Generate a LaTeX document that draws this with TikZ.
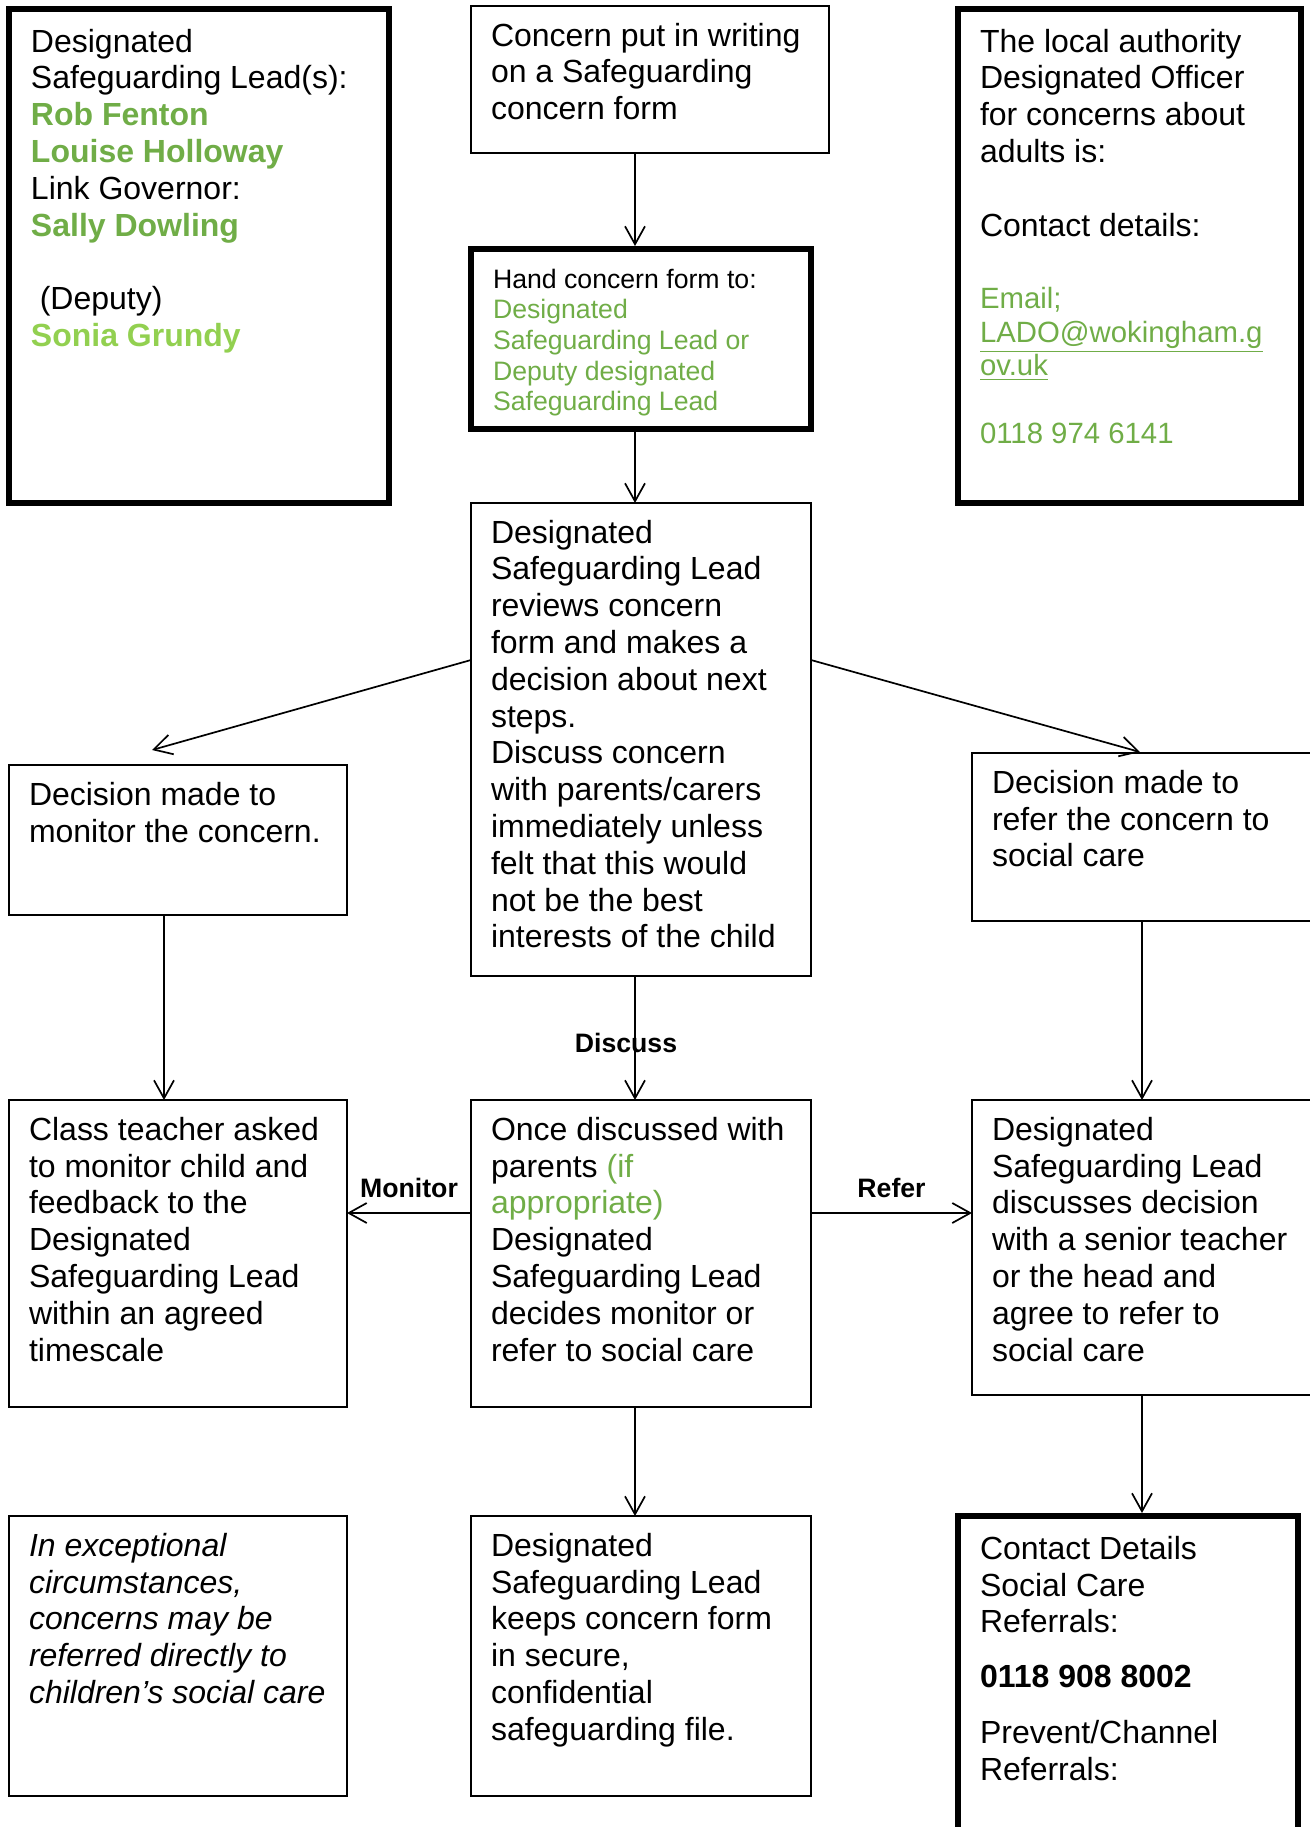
\documentclass[tikz,border=0pt]{standalone}
\usepackage{fontspec}
\setmainfont{Liberation Sans}
\usepackage{tikz}
\usetikzlibrary{arrows.meta}
\definecolor{dslgreen}{RGB}{112,173,71}
\definecolor{lightgreen}{RGB}{146,208,80}
\newcommand{\boxtext}[3]{\parbox[t][#2][t]{#1}{\raggedright\rightskip=-10pt plus 1fil\relax #3}}

\begin{document}
\begin{tikzpicture}[x=0.5pt, y=-0.5pt,
  box/.style={rectangle, draw, line width=0.6pt, anchor=north west, outer sep=0pt,
    inner xsep=10pt, inner ysep=8.5pt, font=\fontsize{16}{18.4}\selectfont},
  thickbox/.style={box, line width=3pt, inner xsep=11pt, inner ysep=10pt},
  arr/.style={-{Straight Barb[length=9pt,width=10pt]}, line width=0.85pt},
  lbl/.style={font=\fontsize{13.33}{15.33}\selectfont\bfseries, inner sep=2pt}]
  \useasboundingbox (0,0) rectangle (1310,1827);
  \clip (0,0) rectangle (1310,1827);
  % top row
  \node[thickbox] (dsl) at (9,9) {\boxtext{168pt}{227pt}{Designated\\
    Safeguarding Lead(s):\\
    \textcolor{dslgreen}{\textbf{Rob Fenton}}\\
    \textcolor{dslgreen}{\textbf{Louise Holloway}}\\
    Link Governor:\\
    \textcolor{dslgreen}{\textbf{Sally Dowling}}\\[18.4pt]
    \hspace*{4.4pt}(Deputy)\\
    \textcolor{lightgreen}{\textbf{Sonia Grundy}}}};
  \node[box] (concern) at (471,6) {\boxtext{159pt}{56.5pt}{Concern put in writing\\
    on a Safeguarding\\
    concern form}};
  \node[thickbox, font=\fontsize{13.33}{15.33}\selectfont] (hand) at (471,249) {\boxtext{148pt}{70pt}{Hand concern form to:\\
    \textcolor{dslgreen}{Designated}\\
    \textcolor{dslgreen}{Safeguarding Lead or}\\
    \textcolor{dslgreen}{Deputy designated}\\
    \textcolor{dslgreen}{Safeguarding Lead}}};
  \node[thickbox] (lado) at (958,9) {\boxtext{149.5pt}{227pt}{The local authority\\
    Designated Officer\\
    for concerns about\\
    adults is:\\[18.4pt]
    Contact details:\\[19.2pt]
    \fontsize{14.67}{16.87}\selectfont
    \textcolor{dslgreen}{Email;}\\
    \textcolor{dslgreen}{\underline{LADO@wokingham.g}}\\
    \textcolor{dslgreen}{\underline{ov.uk}}\\[16.87pt]
    \textcolor{dslgreen}{0118 974 6141}}};
  \node[box] (review) at (471,503) {\boxtext{150pt}{219.5pt}{Designated\\
    Safeguarding Lead\\
    reviews concern\\
    form and makes a\\
    decision about next\\
    steps.\\
    Discuss concern\\
    with parents/carers\\
    immediately unless\\
    felt that this would\\
    not be the best\\
    interests of the child}};
  % decisions
  \node[box] (mondec) at (9,765) {\boxtext{149pt}{58pt}{Decision made to\\
    monitor the concern.}};
  \node[box] (refdec) at (972,753) {\boxtext{180pt}{67pt}{Decision made to\\
    refer the concern to\\
    social care}};
  % actions
  \node[box] (class) at (9,1100) {\boxtext{149pt}{136.5pt}{Class teacher asked\\
    to monitor child and\\
    feedback to the\\
    Designated\\
    Safeguarding Lead\\
    within an agreed\\
    timescale}};
  \node[box] (once) at (471,1100) {\boxtext{150pt}{136.5pt}{Once discussed with\\
    parents \textcolor{dslgreen}{(if}\\
    \textcolor{dslgreen}{appropriate)}\\
    Designated\\
    Safeguarding Lead\\
    decides monitor or\\
    refer to social care}};
  \node[box] (dslref) at (972,1100) {\boxtext{180pt}{130.5pt}{Designated\\
    Safeguarding Lead\\
    discusses decision\\
    with a senior teacher\\
    or the head and\\
    agree to refer to\\
    social care}};
  % bottom row
  \node[box, font=\fontsize{16}{18.4}\selectfont\itshape] (except) at (9,1516) {\boxtext{149pt}{123pt}{In exceptional\\
    circumstances,\\
    concerns may be\\
    referred directly to\\
    children’s social care}};
  \node[box] (keeps) at (471,1516) {\boxtext{150pt}{123pt}{Designated\\
    Safeguarding Lead\\
    keeps concern form\\
    in secure,\\
    confidential\\
    safeguarding file.}};
  \node[thickbox] (contact) at (958,1516) {\boxtext{148pt}{180pt}{Contact Details\\
    Social Care\\
    Referrals:\\[9pt]
    \textbf{0118 908 8002}\\[9.6pt]
    Prevent/Channel\\
    Referrals:}};
  % connectors
  \coordinate (midx) at (635,0);
  \coordinate (leftx) at (164,0);
  \coordinate (rightx) at (1142,0);
  \coordinate (diagy) at (0,660);
  \coordinate (sidey) at (0,1213);
  \coordinate (mondecin) at (152,750);
  \coordinate (refdecin) at (1140,752);
  \draw[arr, shorten >=1.5pt] (midx |- concern.south) -- (midx |- hand.north);
  \draw[arr] (midx |- hand.south) -- (midx |- review.north);
  \draw[arr] (review.west |- diagy) -- (mondecin);
  \draw[arr] (review.east |- diagy) -- (refdecin);
  \draw[arr] (leftx |- mondec.south) -- (leftx |- class.north);
  \draw[arr] (rightx |- refdec.south) -- (rightx |- dslref.north);
  \draw[arr] (midx |- review.south) -- node[lbl, pos=0.54, xshift=-4.5pt] (discusslbl) {Discuss} (midx |- once.north);
  \draw[arr] (once.west |- sidey) -- node[lbl, above=5pt] (monitorlbl) {Monitor} (class.east |- sidey);
  \draw[arr] (once.east |- sidey) -- node[lbl, above=5pt] (referlbl) {Refer} (dslref.west |- sidey);
  \draw[arr] (midx |- once.south) -- (midx |- keeps.north);
  \draw[arr, shorten >=1.5pt] (rightx |- dslref.south) -- (rightx |- contact.north);
\end{tikzpicture}
\end{document}
